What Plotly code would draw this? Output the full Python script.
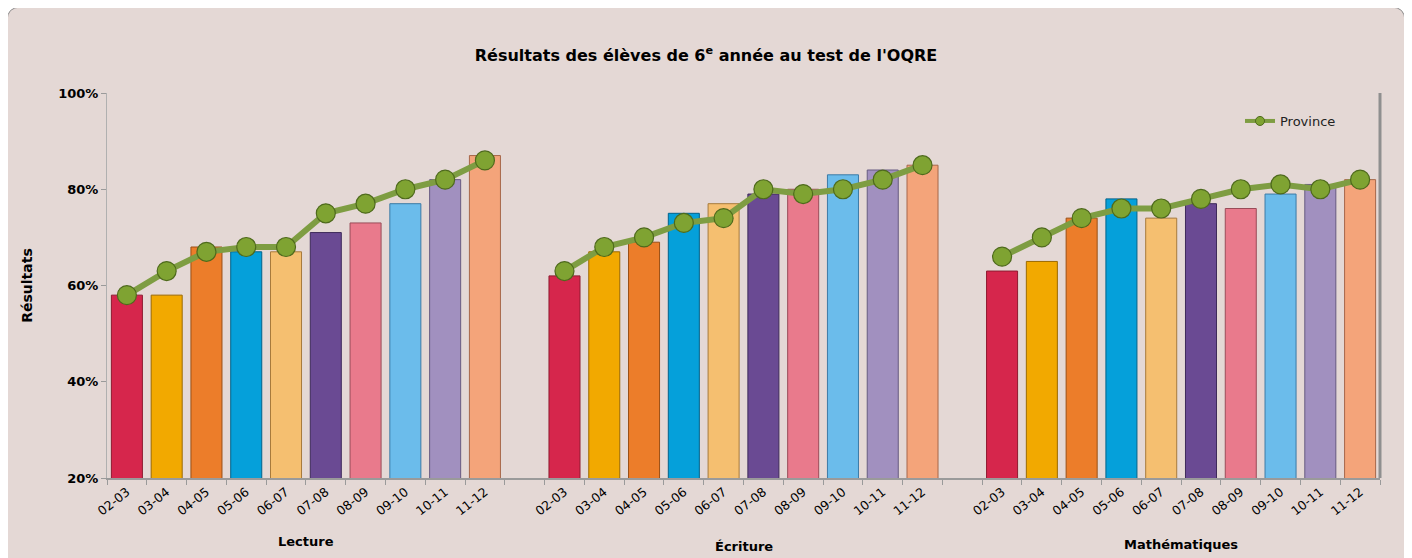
import plotly.graph_objects as go

years = ["02-03", "03-04", "04-05", "05-06", "06-07", "07-08", "08-09", "09-10", "10-11", "11-12"]
subjects = ["Lecture", "Écriture", "Mathématiques"]

lecture_ecole = [58, 58, 68, 67, 67, 71, 73, 77, 82, 87]
ecriture_ecole = [62, 67, 69, 75, 77, 79, 80, 83, 84, 85]
maths_ecole = [63, 65, 74, 78, 74, 77, 76, 79, 81, 82]

lecture_province = [58, 63, 67, 68, 68, 75, 77, 80, 82, 86]
ecriture_province = [63, 68, 70, 73, 74, 80, 79, 80, 82, 85]
maths_province = [66, 70, 74, 76, 76, 78, 80, 81, 80, 82]

bar_colors = ["#D6264C", "#F2A900", "#EC7D2A", "#05A0DA", "#F5BF70",
              "#6A4A93", "#E97A8C", "#6BBCEB", "#A190BF", "#F4A47A"]
bar_edges = ["#8E1B30", "#9C6A00", "#9A4F15", "#02628A", "#A77A3C",
             "#3E2A5A", "#9A4C58", "#3C7BA6", "#665A80", "#A6674A"]

ecole = [lecture_ecole, ecriture_ecole, maths_ecole]
province = [lecture_province, ecriture_province, maths_province]

n = len(years)
step = n + 1

bx, by, bc, be, tv, tt = [], [], [], [], [], []
lx, ly = [], []
for g in range(len(subjects)):
    for i in range(n):
        x = g * step + i
        bx.append(x)
        by.append(ecole[g][i])
        bc.append(bar_colors[i])
        be.append(bar_edges[i])
        tv.append(x)
        tt.append(years[i])
        lx.append(x)
        ly.append(province[g][i])
    lx.append(g * step + n)
    ly.append(None)

line_color = "#7E9D42"
marker_color = "#7FA332"
marker_edge = "#4E6A1C"

fig = go.Figure()
fig.add_trace(go.Bar(
    x=bx, y=by, base=0, width=0.78,
    marker=dict(color=bc, line=dict(color=be, width=1)),
    showlegend=False, hoverinfo="y"))
fig.add_trace(go.Scatter(
    x=lx, y=ly, mode="lines+markers", name="Province",
    line=dict(color=line_color, width=6),
    marker=dict(size=19, color=marker_color, line=dict(color=marker_edge, width=1.2)),
    connectgaps=False, showlegend=False))
# legend entry with smaller symbol, as in the reference
fig.add_trace(go.Scatter(
    x=[None], y=[None], mode="lines+markers", name="Province",
    line=dict(color=line_color, width=4),
    marker=dict(size=9, color=marker_color, line=dict(color=marker_edge, width=1)),
    showlegend=True))

# The page body has an 8px margin, so figure coordinates are page coordinates - 8
OFF = 8
FW, FH = 1412 - OFF, 558 - OFF
# plot area in page pixels: x 107..1380, y 93..478
L, R, T, B = 107 - OFF, 1380 - OFF, 93 - OFF, 478 - OFF
W, H = R - L, B - T

def fx(px):
    return (px - OFF - L) / W

def fy(py):
    return (B - (py - OFF)) / H

x0, x1, y0, y1, r = 7, 1405, 7, 580, 14
path = (f"M {fx(x0 + r)},{fy(y0)} L {fx(x1 - r)},{fy(y0)} Q {fx(x1)},{fy(y0)} {fx(x1)},{fy(y0 + r)} "
        f"L {fx(x1)},{fy(y1)} L {fx(x0)},{fy(y1)} L {fx(x0)},{fy(y0 + r)} "
        f"Q {fx(x0)},{fy(y0)} {fx(x0 + r)},{fy(y0)} Z")

shapes = [dict(type="path", xref="paper", yref="paper", path=path,
               fillcolor="#E4D8D5", line=dict(color="#8C8C8C", width=1), layer="below"),
          dict(type="line", xref="paper", yref="paper", x0=1, x1=1, y0=0, y1=1,
               line=dict(color="#8F8F8F", width=3), layer="below")]

group_label_y = [541, 546, 544]
annotations = []
for g, s in enumerate(subjects):
    annotations.append(dict(
        x=g * step + (n - 1) / 2, xref="x", y=fy(group_label_y[g]), yref="paper",
        text=f"<b>{s}</b>", showarrow=False, yanchor="middle",
        font=dict(family="DejaVu Sans", size=13, color="#000")))

fig.update_layout(
    width=FW, height=FH,
    margin=dict(l=L, r=FW - R, t=T, b=FH - B),
    paper_bgcolor="white",
    plot_bgcolor="#DFE7CB",
    font=dict(family="DejaVu Sans", size=12, color="#000"),
    title=dict(text="<b>Résultats des élèves de 6<sup>e</sup> année au test de l'OQRE</b>",
               x=fx(706), xanchor="center", xref="paper", y=1 - (55 - OFF) / FH, yanchor="middle",
               font=dict(family="DejaVu Sans", size=16, color="#000")),
    shapes=shapes,
    annotations=annotations,
    legend=dict(x=fx(1240), y=fy(121), xanchor="left", yanchor="middle",
                bgcolor="rgba(0,0,0,0)", font=dict(size=13, color="#222"),
                itemwidth=30),
    xaxis=dict(range=[-0.5, len(subjects) * step - 1.5], tickvals=tv, ticktext=tt,
               tickangle=-38, ticks="", showgrid=False, zeroline=False,
               showline=True, linecolor="#9A9A9A", linewidth=2,
               tickfont=dict(size=12.5, color="#000"),
               minor=dict(ticks="outside", tick0=-0.5, dtick=1, ticklen=5,
                          tickcolor="#9A9A9A", showgrid=False)),
    yaxis=dict(range=[20, 100], tickvals=[20, 40, 60, 80, 100],
               ticktext=["<b>20%</b>", "<b>40%</b>", "<b>60%</b>", "<b>80%</b>", "<b>100%</b>"],
               ticks="outside", ticklen=5, tickcolor="#9A9A9A",
               showgrid=False, zeroline=False, showline=True, linecolor="#B0B0B0", linewidth=1,
               title=dict(text="<b>Résultats</b>", standoff=22, font=dict(size=14)),
               tickfont=dict(size=13)),
)

fig.write_html("out.html")
